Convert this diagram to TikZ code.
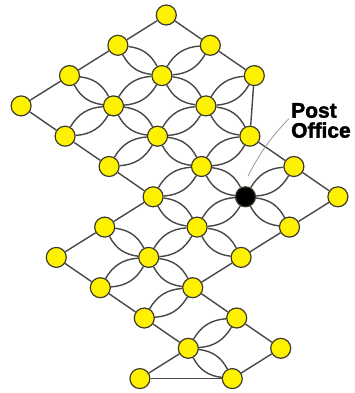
\documentclass[tikz,border=0pt]{standalone}
\usepackage{fontspec}
\setmainfont{Liberation Sans}
\newfontfamily\signfont{Liberation Sans}[BoldFeatures={FakeBold=2}]
\begin{document}
\begin{tikzpicture}[
                x=1pt, y=1pt,
                stop/.style={circle,draw=black!75!olive,line width=1.2pt,minimum size=20pt,inner sep=0pt},
                street/.style={draw=black!72,line width=1.4pt},
                leader/.style={draw=black!40,line width=0.8pt},
                sign/.style={font=\signfont\bfseries\fontsize{21}{20}\selectfont,align=left,inner sep=0pt}
            ]

            \useasboundingbox (0,0) rectangle (354,-393);

            \foreach \j/\lo/\hi in {0/0/2,1/0/5,2/0/5,3/0/5,4/3/7,5/3/7,6/6/6}
                \foreach \i in {\lo,...,\hi} {
                    \ifnum\i\j=42 \def\stopfill{black}\else\def\stopfill{yellow}\fi
                    \node[stop,fill=\stopfill] (n\i\j) at ({166.3+44*\i-48.4*\j}, {-15-30.3*(\i+\j)}) {};
                }

            \foreach \a/\b in {00/10,10/20,31/41,41/51,03/13,13/23,23/33,54/64,64/74,35/45,45/55,55/65,
                               00/01,01/02,02/03,33/34,34/35,51/52,52/53,53/54,65/66,74/75,20/31,66/75}
                \draw[street] (n\a) -- (n\b);

            \foreach \a/\b in {01/11,11/21,21/31,02/12,12/22,22/32,32/42,42/52,33/43,43/53,34/44,44/54,65/75,
                               10/11,11/12,12/13,20/21,21/22,22/23,31/32,32/33,41/42,42/43,43/44,44/45,54/55,64/65}
                \draw[street] (n\a) to[bend left=28] (n\b) (n\a) to[bend right=28] (n\b);

            \node[sign,anchor=north west] (post) at (291,-103) {Post\\Office};
            \coordinate (tip) at (248,-176);
            \draw[leader] ([xshift=-2pt,yshift=2pt]post.west) to[bend right=8] (tip);

        \end{tikzpicture}
\end{document}
